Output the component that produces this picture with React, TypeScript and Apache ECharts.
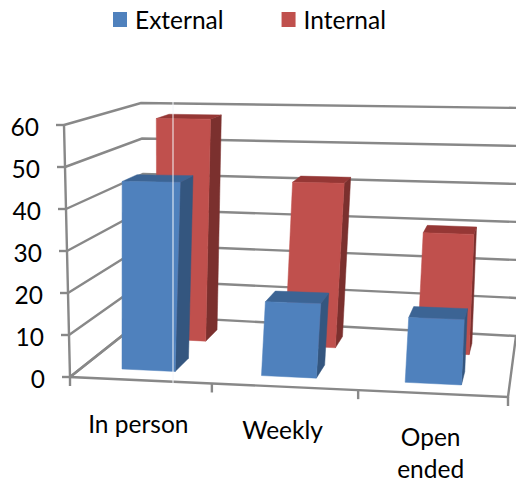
import React, { useEffect, useRef } from "react";
import * as echarts from "echarts";

const categories = ["In person", "Weekly", "Open\nended"];
const externalValues = [45.5, 17.5, 15];
const internalValues = [58, 42, 30];
const valueTicks = [0, 10, 20, 30, 40, 50, 60];

const FONT = "Lato";
const GRID = { left: 70, top: 125, width: 438, height: 252 };
type Pt = [number, number];

function homography(p0: Pt, p1: Pt, p2: Pt, p3: Pt) {
  const dx1 = p1[0] - p2[0], dx2 = p3[0] - p2[0], sx = p0[0] - p1[0] + p2[0] - p3[0];
  const dy1 = p1[1] - p2[1], dy2 = p3[1] - p2[1], sy = p0[1] - p1[1] + p2[1] - p3[1];
  const den = dx1 * dy2 - dx2 * dy1;
  const g = (sx * dy2 - dx2 * sy) / den;
  const h = (dx1 * sy - sx * dy1) / den;
  const a = p1[0] - p0[0] + g * p1[0], b = p3[0] - p0[0] + h * p3[0], c = p0[0];
  const d = p1[1] - p0[1] + g * p1[1], e = p3[1] - p0[1] + h * p3[1], f = p0[1];
  return (u: number, v: number): Pt => {
    const w = g * u + h * v + 1;
    return [(a * u + b * v + c) / w, (d * u + e * v + f) / w];
  };
}

const floorMap = homography([70, 377], [508, 397], [516, 336], [147, 316]);
const topMap = homography([64, 125], [516, 127], [522, 108], [141, 103]);

function project(u0: number, v: number, h: number): Pt {
  const u = u0 - 0.1 * u0 * (1 - u0);
  const a = floorMap(u, v), b = topMap(u, v);
  return [a[0] + (b[0] - a[0]) * h, a[1] + (b[1] - a[1]) * h];
}

function fromCoord(c: number[]) {
  return {
    u: (c[0] - GRID.left) / GRID.width,
    h: (GRID.top + GRID.height - c[1]) / GRID.height,
  };
}

const GRID_COLOR = "#888888";

function poly(points: Pt[], fill: string) {
  return { type: "polygon", shape: { points }, style: { fill, stroke: fill, lineWidth: 0.5 } };
}

function line(points: Pt[], width = 2.4) {
  return {
    type: "polyline",
    shape: { points },
    style: { fill: "none", stroke: GRID_COLOR, lineWidth: width },
  };
}

function barRenderer(vFront: number, vBack: number, front: string, side: string, top: string) {
  return (_: any, api: any) => {
    const cat = api.value(0);
    const val = api.value(1);
    const bandU = api.size([1, 0])[0] / GRID.width;
    const c = fromCoord(api.coord([cat, val]));
    const uL = c.u - bandU * 0.21;
    const uR = c.u + bandU * 0.175;
    const h = c.h;
    return {
      type: "group",
      children: [
        poly([project(uR, vFront, 0), project(uR, vBack, 0), project(uR, vBack, h), project(uR, vFront, h)], side),
        poly([project(uL, vFront, h), project(uR, vFront, h), project(uR, vBack, h), project(uL, vBack, h)], top),
        poly([project(uL, vFront, 0), project(uR, vFront, 0), project(uR, vFront, h), project(uL, vFront, h)], front),
      ],
    };
  };
}

function wallRenderer(_: any, api: any) {
  const val = api.value(1);
  const c = fromCoord(api.coord([0, val]));
  const h = c.h;
  const fl = project(0, 0, h);
  const children: any[] = [
    line([fl, project(0, 1, h), project(1, 1, h)]),
    line([[fl[0] - 8, fl[1]], fl]),
    {
      type: "text",
      style: {
        text: String(val),
        x: fl[0] - 25,
        y: fl[1] + 1,
        align: "right",
        verticalAlign: "middle",
        font: `24.5px ${FONT}`,
        fill: "#000",
      },
    },
  ];
  return { type: "group", children };
}

function frameRenderer(params: any, api: any) {
  if (params.dataIndex !== 0) return { type: "group", children: [] };
  const children: any[] = [
    line([project(0, 0, 1), project(0, 0, 0), project(1, 0, 0), project(1, 1, 0)]),
    line([project(0, 0, 0), project(0, 1, 0)]),
  ];
  for (let i = 0; i <= categories.length; i++) {
    const p = project(i / categories.length, 0, 0);
    children.push(line([p, [p[0], p[1] + 9]]));
  }
  return { type: "group", children };
}

function labelRenderer(_: any, api: any) {
  const i = api.value(0);
  const c = fromCoord(api.coord([i, 0]));
  const p = project(c.u, 0, 0);
  return {
    type: "text",
    style: {
      text: categories[i],
      x: p[0] - 2,
      y: p[1] + 27,
      align: "center",
      verticalAlign: "top",
      font: `24.5px ${FONT}`,
      lineHeight: 32,
      fill: "#000",
    },
  };
}

export default function App() {
  const ref = useRef<HTMLDivElement>(null);
  useEffect(() => {
    const chart = echarts.init(ref.current!, undefined, { renderer: "svg" });
    chart.setOption({
      animation: false,
      backgroundColor: "#fff",
      textStyle: { fontFamily: FONT },
      grid: { ...GRID },
      xAxis: { type: "category", data: categories, show: false },
      yAxis: { type: "value", min: 0, max: 60, interval: 10, show: false },
      legend: {
        data: ["External", "Internal"],
        left: 113,
        top: 7,
        padding: 0,
        icon: "rect",
        itemWidth: 14,
        itemHeight: 15,
        itemGap: 58,
        textStyle: { fontFamily: FONT, fontSize: 24.5, color: "#000", padding: [0, 0, 0, 3] },
      },
      series: [
        {
          type: "custom",
          renderItem: frameRenderer,
          data: [[0, 0]],
          clip: false,
          silent: true,
          z: 1,
        },
        {
          type: "custom",
          renderItem: wallRenderer,
          data: valueTicks.map((t) => [0, t]),
          clip: false,
          silent: true,
          z: 1,
        },
        {
          type: "custom",
          renderItem: labelRenderer,
          data: categories.map((_, i) => [i, 0]),
          clip: false,
          silent: true,
          z: 1,
        },
        {
          name: "Internal",
          type: "custom",
          renderItem: barRenderer(0.62, 0.82, "#C0504D", "#7B302E", "#953735"),
          data: internalValues.map((v, i) => [i, v]),
          itemStyle: { color: "#C0504D" },
          clip: false,
          z: 2,
        },
        {
          name: "External",
          type: "custom",
          renderItem: barRenderer(0.14, 0.34, "#4F81BD", "#34567F", "#3C6494"),
          data: externalValues.map((v, i) => [i, v]),
          itemStyle: { color: "#4F81BD" },
          clip: false,
          z: 3,
        },
      ],
      graphic: [
        {
          type: "line",
          z: 100,
          shape: { x1: 173, y1: 102, x2: 173, y2: 384 },
          style: { stroke: "#f4f6fa", lineWidth: 1 },
        },
      ],
    });
    return () => chart.dispose();
  }, []);
  return <div ref={ref} style={{ position: "absolute", left: 0, top: 0, width: 516, height: 483 }} />;
}
